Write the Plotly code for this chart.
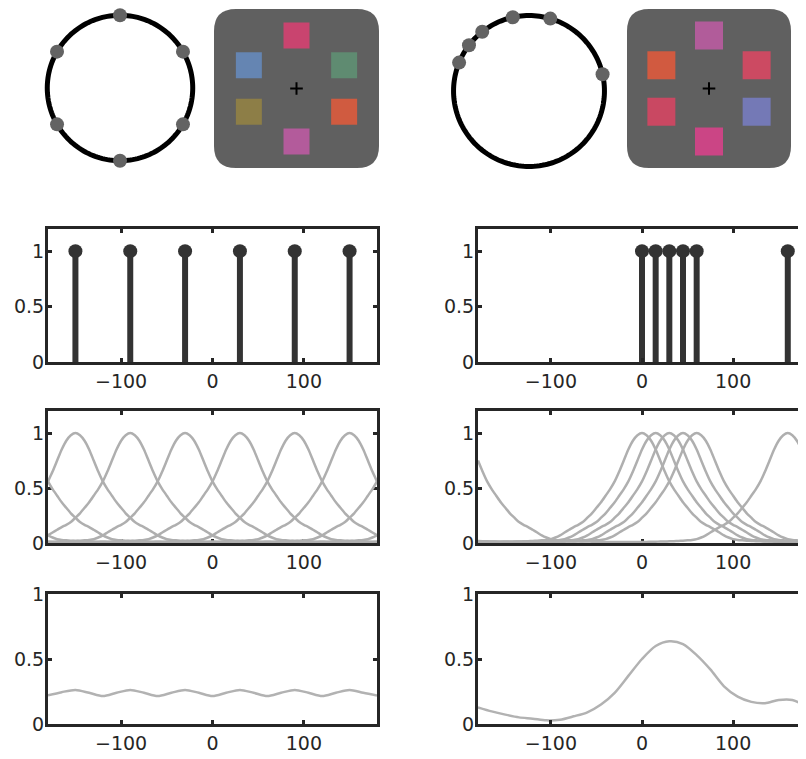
import numpy as np
import plotly.graph_objects as go

# ---------------- data ----------------
# dot angles on the "memory" circles (deg)
circle_dots_left = [90, 30, -30, -90, -150, 150]
circle_dots_right = [12.8, 73.6, 102.4, 128.3, 142.7, 157.9]

# stimulus squares (angle on display, colour)
stim_angles = [90, 26, 334, 270, 206, 154]
stim_colors_left = ["#C9446F", "#5F8B71", "#D05B40", "#B35B9B", "#8D7E47", "#6585B2"]
stim_colors_right = ["#B15C9A", "#CC4A62", "#7479B6", "#CB4585", "#C94862", "#D15A40"]

# stimulus feature values for the stem plots (deg)
stems_left = [-150, -90, -30, 30, 90, 150]
stems_right = [0, 15, 30, 45, 60, 160]

# tuning profile, at distances 0,5,...,180 deg
profile_dist = list(range(0, 181, 5))
profile_vals = [1.00, 0.98, 0.93, 0.85, 0.75, 0.65, 0.56, 0.49, 0.43, 0.37,
                0.32, 0.27, 0.23, 0.19, 0.165, 0.145, 0.12, 0.095, 0.07, 0.05,
                0.035, 0.028, 0.024, 0.021, 0.019, 0.017, 0.015, 0.014, 0.013,
                0.012, 0.011, 0.010, 0.009, 0.008, 0.008, 0.008, 0.008]

# population averages (bottom row), at x = -180..180 step 15
avg_x = list(range(-180, 181, 15))
avg_left = [0.22, 0.245, 0.262, 0.24, 0.215, 0.24, 0.262, 0.24, 0.215, 0.24,
            0.262, 0.24, 0.215, 0.24, 0.262, 0.24, 0.215, 0.24, 0.262, 0.24,
            0.215, 0.24, 0.262, 0.24, 0.22]
avg_right = [0.128, 0.097, 0.072, 0.051, 0.041, 0.028, 0.033, 0.059, 0.09,
             0.15, 0.24, 0.37, 0.50, 0.60, 0.636, 0.615, 0.53, 0.42, 0.29,
             0.21, 0.17, 0.16, 0.185, 0.185, 0.135]

x_ticks = [-100, 0, 100]
y_ticks = [0, 0.5, 1]

# ---------------- figure ----------------
PAGE_OFF = 8            # default page body margin
W, H = 806 - PAGE_OFF, 759 - PAGE_OFF
fig = go.Figure()

def px_x(a, b):
    return [(a - PAGE_OFF) / W, min(1.0, (b - PAGE_OFF) / W)]

def px_y(top, bottom):
    return [1 - (bottom - PAGE_OFF) / H, min(1.0, 1 - (top - PAGE_OFF) / H)]

DARK = "#262626"
GRAY = "#AFAFAF"
STEM = "#333333"

# circles (polar subplots)
ring_theta = list(range(0, 361, 2))
for pname, dots in (("polar", circle_dots_left), ("polar2", circle_dots_right)):
    fig.add_trace(go.Scatterpolar(theta=ring_theta, r=[1] * len(ring_theta), mode="lines",
                                  line=dict(color="black", width=5), subplot=pname,
                                  hoverinfo="skip"))
    fig.add_trace(go.Scatterpolar(theta=dots, r=[1] * len(dots), mode="markers",
                                  marker=dict(color="#636363", size=14), subplot=pname))

# stimulus displays
STIM_R = 53
for xa, ya, cols, sz in (("x7", "y7", stim_colors_left, 26), ("x8", "y8", stim_colors_right, 28)):
    a = np.deg2rad(stim_angles)
    fig.add_trace(go.Scatter(x=STIM_R * np.cos(a), y=STIM_R * np.sin(a), mode="markers",
                             marker=dict(symbol="square", size=sz, color=cols, line=dict(width=0)),
                             xaxis=xa, yaxis=ya))
    fig.add_trace(go.Scatter(x=[0], y=[0], mode="markers",
                             marker=dict(symbol="cross-thin", size=9, line=dict(width=2, color="black")),
                             xaxis=xa, yaxis=ya))

# stem plots
for stems, xa, ya in ((stems_left, "x", "y"), (stems_right, "x2", "y2")):
    sx, sy = [], []
    for s in stems:
        sx += [s, s, None]
        sy += [0, 1, None]
    fig.add_trace(go.Scatter(x=sx, y=sy, mode="lines", line=dict(color=STEM, width=6),
                             xaxis=xa, yaxis=ya, cliponaxis=False))
    fig.add_trace(go.Scatter(x=stems, y=[1] * len(stems), mode="markers",
                             marker=dict(color=STEM, size=14), xaxis=xa, yaxis=ya))

# tuning curves
grid = list(range(-180, 181, 5))
prof = dict(zip(profile_dist, profile_vals))
for stems, xa, ya in ((stems_left, "x3", "y3"), (stems_right, "x4", "y4")):
    for s in stems:
        yv = []
        for g in grid:
            d = abs(g - s) % 360
            d = min(d, 360 - d)
            yv.append(prof[int(round(d / 5.0)) * 5])
        fig.add_trace(go.Scatter(x=grid, y=yv, mode="lines",
                                 line=dict(color=GRAY, width=2.5, shape="spline", smoothing=0.6),
                                 xaxis=xa, yaxis=ya, cliponaxis=False))

# averages
for vals, xa, ya in ((avg_left, "x5", "y5"), (avg_right, "x6", "y6")):
    fig.add_trace(go.Scatter(x=avg_x, y=vals, mode="lines",
                             line=dict(color="#B2B2B2", width=2.5, shape="spline", smoothing=0.8),
                             xaxis=xa, yaxis=ya))

# ---------------- layout ----------------
axis_common = dict(showline=True, linewidth=3, linecolor=DARK, mirror="ticks",
                   ticks="inside", ticklen=4, tickwidth=3, tickcolor=DARK,
                   showgrid=False, zeroline=False, automargin=False,
                   tickfont=dict(family="DejaVu Sans", size=19, color=DARK))

colx = [px_x(48, 377), px_x(478, 806)]
rows = [(px_y(229, 362), [0, 1.2]), (px_y(411, 543), [0, 1.2]), (px_y(594, 724), [0, 1])]

layout = dict(width=W, height=H, margin=dict(l=0, r=0, t=0, b=0, pad=0), autosize=False,
              showlegend=False, paper_bgcolor="white", plot_bgcolor="white")

n = 1
for ri, (ydom, yr) in enumerate(rows):
    for ci in range(2):
        sfx = "" if n == 1 else str(n)
        extra = dict(layer="below traces") if ri == 1 else {}
        layout["xaxis" + sfx] = dict(axis_common, domain=colx[ci], range=[-180, 180],
                                     tickvals=x_ticks, anchor="y" + sfx, **extra)
        layout["yaxis" + sfx] = dict(axis_common, domain=ydom, range=yr,
                                     tickvals=y_ticks, ticktext=["0", "0.5", "1"],
                                     ticklabelstandoff=-3,
                                     anchor="x" + sfx, **extra)
        n += 1

# stimulus display axes (1 unit = 1 px)
layout["xaxis7"] = dict(domain=px_x(214, 379), range=[-82.5, 82.5], visible=False, anchor="y7")
layout["yaxis7"] = dict(domain=px_y(9, 168), range=[-79.5, 79.5], visible=False, anchor="x7")
layout["xaxis8"] = dict(domain=px_x(627, 791), range=[-82, 82], visible=False, anchor="y8")
layout["yaxis8"] = dict(domain=px_y(9, 168), range=[-79.5, 79.5], visible=False, anchor="x8")

polar_common = dict(bgcolor="rgba(0,0,0,0)",
                    radialaxis=dict(visible=False, range=[0, 1.1]),
                    angularaxis=dict(visible=False))
layout["polar"] = dict(polar_common, domain=dict(x=px_x(38.6, 201.4), y=px_y(88 - 80, 88 + 80)))
layout["polar2"] = dict(polar_common, domain=dict(x=px_x(444.3, 613.7), y=px_y(91 - 83, 91 + 83)))

def rounded_rect(x0, y0, x1, y1, r):
    return (f"M {x0 + r},{y0} L {x1 - r},{y0} Q {x1},{y0} {x1},{y0 + r} "
            f"L {x1},{y1 - r} Q {x1},{y1} {x1 - r},{y1} L {x0 + r},{y1} "
            f"Q {x0},{y1} {x0},{y1 - r} L {x0},{y0 + r} Q {x0},{y0} {x0 + r},{y0} Z")

layout["shapes"] = [
    dict(type="path", xref="x7", yref="y7", path=rounded_rect(-82.5, -79.5, 82.5, 79.5, 22),
         fillcolor="#606060", line=dict(width=0), layer="below"),
    dict(type="path", xref="x8", yref="y8", path=rounded_rect(-82, -79.5, 82, 79.5, 22),
         fillcolor="#606060", line=dict(width=0), layer="below"),
]

fig.update_layout(**layout)
fig.write_html("out.html")
